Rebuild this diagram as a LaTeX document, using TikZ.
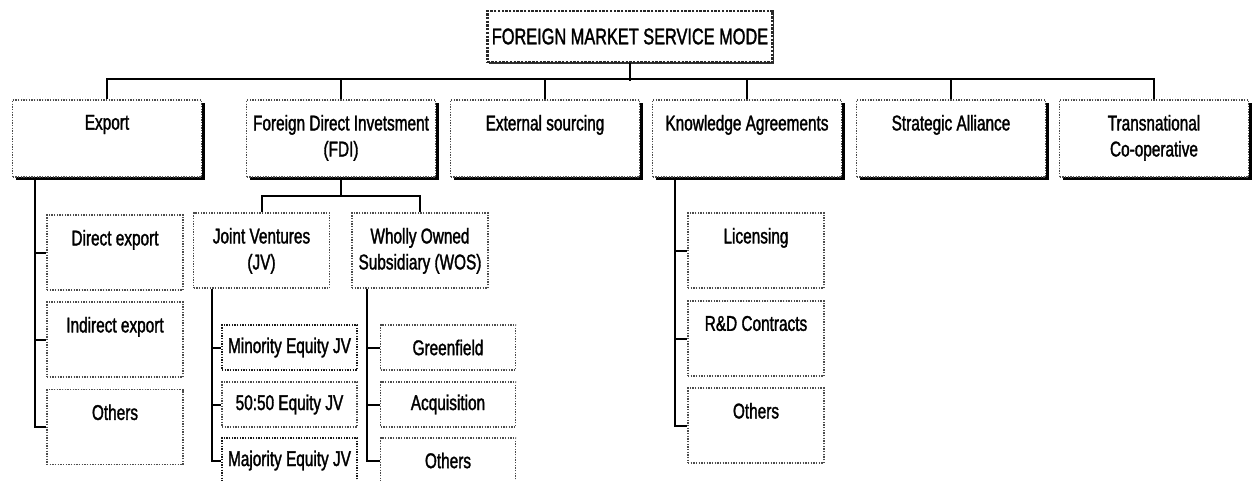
\documentclass[tikz,border=0pt]{standalone}
\usepackage{fontspec}
\setmainfont[FakeStretch=0.72, FakeBold=1.5]{Liberation Sans}
\usetikzlibrary{shadows, calc}

\begin{document}
\begin{tikzpicture}[
  x=0.75pt, y=-0.75pt,
  font=\fontsize{16}{19.5}\selectfont,
  boxbase/.style={rectangle, draw=black!70, densely dotted, line width=1pt, fill=white},
  topbox/.style={boxbase, draw=black!85, line width=1.8pt, minimum width=210pt, minimum height=38.25pt, font=\fontsize{17}{18}\selectfont, drop shadow={shadow xshift=1.2pt, shadow yshift=-1.2pt, fill=black!80, opacity=1}},
  mainbox/.style={boxbase, minimum width=141.75pt, minimum height=57.75pt, drop shadow={shadow xshift=2.6pt, shadow yshift=-2.6pt, fill=black, opacity=1}},
  subbox/.style={boxbase, minimum width=102pt, minimum height=56.25pt},
  smallbox/.style={boxbase, minimum width=101.25pt, minimum height=33.75pt, align=center},
  toptext/.style={label={[anchor=north, inner sep=0pt, yshift=-11.5pt, align=center]north:{#1}}},
  link/.style={line width=1.5pt, black}
]
\useasboundingbox (0,0) rectangle (1254,480);

% Root
\node[topbox] (fmsm) at (630,36.5) {FOREIGN MARKET SERVICE MODE};

% First level
\node[mainbox, toptext={Export}] (export) at (107,138.5) {};
\node[mainbox, toptext={Foreign Direct Invetsment\\(FDI)}] (fdi) at (341,138.5) {};
\node[mainbox, toptext={External sourcing}] (ext) at (545,138.5) {};
\node[mainbox, toptext={Knowledge Agreements}] (know) at (747,138.5) {};
\node[mainbox, toptext={Strategic Alliance}] (strat) at (951,138.5) {};
\node[mainbox, toptext={Transnational\\Co-operative}] (trans) at (1154,138.5) {};

\draw[link] (fmsm.south) -- ++(0,18);
\draw[link] (export.north) -- ++(0,-20) -| (trans.north);
\foreach \n in {fdi,ext,know,strat}
  \draw[link] (\n.north) -- ++(0,-20);

% Export branch
\node[subbox, toptext={Direct export}] (dirEx) at (115,252.5) {};
\node[subbox, toptext={Indirect export}] (indEx) at (115,339.5) {};
\node[subbox, toptext={Others}] (othEx) at (115,427) {};
\coordinate (exStem) at ($(dirEx.west)+(-11,0)$);
\draw[link] (exStem |- export.south) |- (othEx.west);
\foreach \n in {dirEx,indEx}
  \draw[link] (exStem |- \n.west) -- (\n.west);

% FDI branch
\node[subbox, toptext={Joint Ventures\\(JV)}] (jv) at (261.5,250.5) {};
\node[subbox, toptext={Wholly Owned\\Subsidiary (WOS)}] (wos) at (420,250.5) {};
\draw[link] (fdi.south) -- ++(0,18) coordinate (fdiBus);
\draw[link] (jv.north) |- (fdiBus) -| (wos.north);

% Joint ventures
\node[smallbox, draw=black!90] (minJV) at (289.5,347.5) {Minority Equity JV};
\node[smallbox] (eqJV) at (289.5,404.5) {50:50 Equity JV};
\node[smallbox, draw=black!90] (majJV) at (289.5,460.5) {Majority Equity JV};
\coordinate (jvStem) at ($(jv.south west)+(19,0)$);
\draw[link] (jvStem) |- (majJV.west);
\foreach \n in {minJV,eqJV}
  \draw[link] (jvStem |- \n.west) -- (\n.west);

% Wholly owned
\node[smallbox] (green) at (448,347.5) {Greenfield};
\node[smallbox] (acq) at (448,404.5) {Acquisition};
\node[smallbox] (othWos) at (448,460.5) {Others};
\coordinate (wosStem) at ($(wos.south west)+(16,0)$);
\draw[link] (wosStem) |- (othWos.west);
\foreach \n in {green,acq}
  \draw[link] (wosStem |- \n.west) -- (\n.west);

% Knowledge branch
\node[subbox, toptext={Licensing}] (lic) at (756,250.5) {};
\node[subbox, toptext={R\&D Contracts}] (rnd) at (756,338.5) {};
\node[subbox, toptext={Others}] (othKn) at (756,425.5) {};
\coordinate (knStem) at ($(know.south west)+(23.5,0)$);
\draw[link] (knStem) |- (othKn.west);
\foreach \n in {lic,rnd}
  \draw[link] (knStem |- \n.west) -- (\n.west);

\end{tikzpicture}
\end{document}
